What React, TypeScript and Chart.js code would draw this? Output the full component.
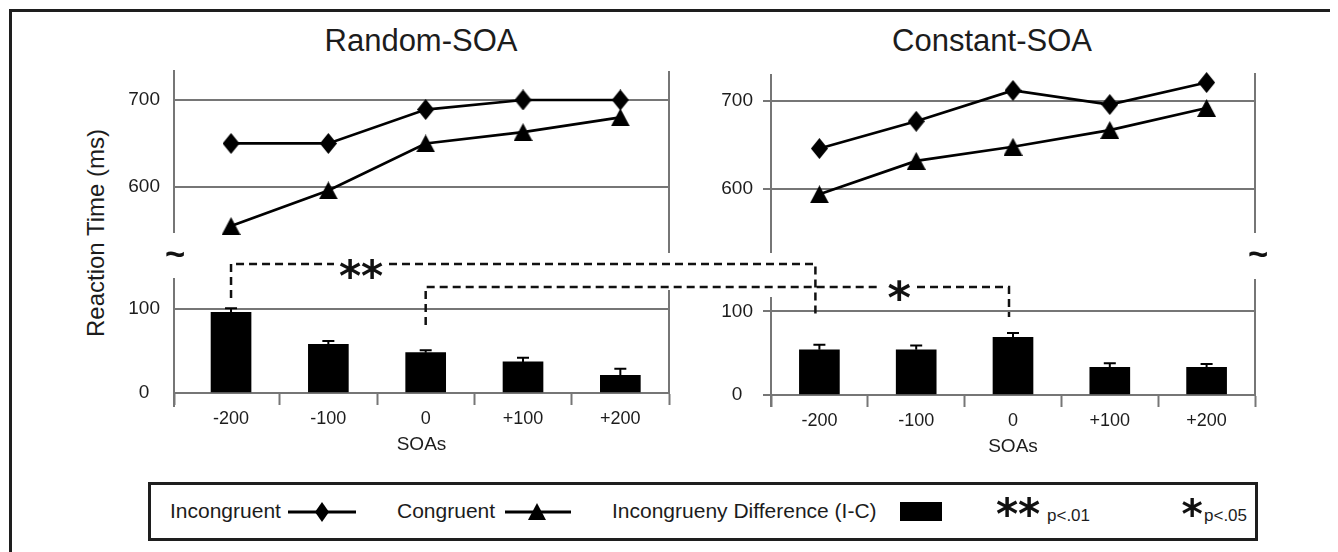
import React, { useEffect, useRef } from 'react';
import { Chart, registerables } from 'chart.js';

Chart.register(...registerables);

// ---------------- data ----------------
const soaLabels = ['-200', '-100', '0', '+100', '+200'];
const randomIncongruent = [650, 650, 689, 700, 700];
const randomCongruent = [555, 596, 650, 663, 680];
const constantIncongruent = [646, 677, 712, 696, 721];
const constantCongruent = [594, 632, 648, 667, 692];
const randomDifference = [96, 58, 48, 37, 21];
const randomDifferenceErr = [5, 4, 3, 5, 8];
const constantDifference = [54, 54, 69, 33, 33];
const constantDifferenceErr = [6, 5, 5, 5, 4];
const rtTicks = [600, 700];
const diffTicks = [0, 100];

// ---------------- layout / style ----------------
const ORIGIN = 8;
const FONT = '"Liberation Sans", Arial, Helvetica, sans-serif';
const GRID = '#767676';
const TXT = '#1c1c1c';
const YW = 90;
const PR = 20;
const PT = 32;
const PB_TOP = 32;
const XH = 75;
const PB_BOT = 5;

type Seg = { side: 'left' | 'right'; from: number; to: number };
type Geo = {
  left: number; right: number; top: number; bottom: number;
  xMin: number; xMax: number; yMin: number; yMax: number;
  ticks: number[]; leftPanel: boolean; bar: boolean; segs: Seg[];
};

const GEO: Record<string, Geo> = {
  tl: { left: 174, right: 669, top: 70, bottom: 233, xMin: -0.586, xMax: 4.5, yMin: 547, yMax: 734.5, ticks: rtTicks, leftPanel: true, bar: false,
    segs: [{ side: 'left', from: 0, to: 0 }, { side: 'right', from: 1, to: 20 }] },
  tr: { left: 771, right: 1255, top: 74, bottom: 253, xMin: -0.5, xMax: 4.5, yMin: 527.3, yMax: 730.7, ticks: rtTicks, leftPanel: false, bar: false,
    segs: [{ side: 'left', from: 0, to: 0 }, { side: 'right', from: -1, to: -20 }] },
  bl: { left: 174, right: 669, top: 278, bottom: 393, xMin: -0.586, xMax: 4.5, yMin: 0, yMax: 136.9, ticks: diffTicks, leftPanel: true, bar: true,
    segs: [{ side: 'left', from: 0, to: 14 }, { side: 'right', from: 12, to: 0 }] },
  br: { left: 771, right: 1255, top: 280, bottom: 395, xMin: -0.5, xMax: 4.5, yMin: 0, yMax: 137.4, ticks: diffTicks, leftPanel: false, bar: true,
    segs: [{ side: 'left', from: 17, to: 12 }, { side: 'right', from: -1, to: 0 }] },
};

function canvasBox(g: Geo) {
  const left = g.left - YW;
  const top = g.top - PT;
  const width = g.right - g.left + YW + PR;
  const height = g.bottom - g.top + PT + (g.bar ? XH + PB_BOT : PB_TOP);
  return { left, top, width, height };
}

function framePlugin(segs: Seg[]) {
  return {
    id: 'frameLines',
    beforeDatasetsDraw(chart: any) {
      const { ctx, chartArea: a } = chart;
      ctx.save();
      ctx.strokeStyle = GRID;
      ctx.lineWidth = 2;
      ctx.setLineDash([]);
      segs.forEach((s) => {
        const x = s.side === 'left' ? a.left : a.right;
        ctx.beginPath();
        ctx.moveTo(x, a.top + s.from);
        ctx.lineTo(x, a.bottom + s.to);
        ctx.stroke();
      });
      ctx.restore();
    },
  };
}

const errorBarPlugin = {
  id: 'errorBars',
  afterDatasetsDraw(chart: any) {
    const ctx = chart.ctx;
    chart.data.datasets.forEach((ds: any, di: number) => {
      const errs: number[] | undefined = ds.errors;
      if (!errs) return;
      const meta = chart.getDatasetMeta(di);
      meta.data.forEach((bar: any, i: number) => {
        const x = bar.x;
        const yTop = bar.y;
        const yErr = chart.scales.y.getPixelForValue(ds.data[i].y + errs[i]);
        ctx.save();
        ctx.strokeStyle = '#000';
        ctx.lineWidth = 2;
        ctx.beginPath();
        ctx.moveTo(x, yTop);
        ctx.lineTo(x, yErr);
        ctx.moveTo(x - 6, yErr);
        ctx.lineTo(x + 6, yErr);
        ctx.stroke();
        ctx.restore();
      });
    });
  },
};

function yScale(g: Geo) {
  return {
    type: 'linear',
    min: g.yMin,
    max: g.yMax,
    afterBuildTicks: (s: any) => { s.ticks = g.ticks.map((v) => ({ value: v })); },
    afterFit: (s: any) => { s.width = YW; },
    border: { display: false },
    grid: { color: GRID, lineWidth: 2, drawTicks: !g.leftPanel, tickLength: 8, tickColor: GRID, tickWidth: 2 },
    ticks: { color: TXT, font: { size: 19, family: FONT }, padding: g.leftPanel ? 14 : 10, crossAlign: 'center' },
  };
}

function xBarScale(g: Geo) {
  const vals = [g.xMin, 0, 0.5, 1, 1.5, 2, 2.5, 3, 3.5, 4, g.xMax];
  return {
    type: 'linear',
    min: g.xMin,
    max: g.xMax,
    offset: false,
    afterBuildTicks: (s: any) => { s.ticks = vals.map((v) => ({ value: v })); },
    afterFit: (s: any) => { s.height = XH; },
    border: { display: true, color: GRID, width: 2 },
    grid: {
      offset: false,
      drawOnChartArea: false,
      drawTicks: true,
      tickLength: 12,
      tickWidth: 2,
      tickColor: (c: any) => (c.tick && Number.isInteger(c.tick.value) ? 'rgba(0,0,0,0)' : GRID),
    },
    ticks: {
      autoSkip: false, maxRotation: 0, minRotation: 0, padding: 3, color: TXT,
      font: { size: 18, family: FONT },
      callback: (v: any) => (Number.isInteger(v) ? soaLabels[v] : ''),
    },
    title: { display: true, text: 'SOAs', color: TXT, font: { size: 19, family: FONT }, padding: { top: 0, bottom: 12 } },
  };
}

function makeDiamond(w: number, h: number) {
  const c = document.createElement('canvas');
  c.width = w; c.height = h;
  const g = c.getContext('2d')!;
  g.fillStyle = '#000';
  g.beginPath();
  g.moveTo(w / 2, 0); g.lineTo(w, h / 2); g.lineTo(w / 2, h); g.lineTo(0, h / 2);
  g.closePath(); g.fill();
  return c;
}
function makeTriangle(w: number, h: number) {
  const c = document.createElement('canvas');
  c.width = w; c.height = h;
  const g = c.getContext('2d')!;
  g.fillStyle = '#000';
  g.beginPath();
  g.moveTo(w / 2, 0); g.lineTo(w, h); g.lineTo(0, h);
  g.closePath(); g.fill();
  return c;
}

const baseOptions = (g: Geo) => ({
  animation: false,
  responsive: false,
  events: [],
  layout: { padding: { left: 0, right: PR, top: PT, bottom: g.bar ? PB_BOT : PB_TOP } },
  plugins: { legend: { display: false }, tooltip: { enabled: false } },
});

function lineConfig(g: Geo, inc: number[], con: number[], diamond: any, tri: any): any {
  return {
    type: 'line',
    data: {
      datasets: [
        { label: 'Incongruent', data: inc.map((y, x) => ({ x, y })), borderColor: '#000', borderWidth: 2.7,
          pointStyle: diamond, pointRadius: 9, pointBackgroundColor: '#000', clip: false, tension: 0 },
        { label: 'Congruent', data: con.map((y, x) => ({ x, y })), borderColor: '#000', borderWidth: 2.7,
          pointStyle: tri, pointRadius: 9, pointBackgroundColor: '#000', clip: false, tension: 0 },
      ],
    },
    options: {
      ...baseOptions(g),
      scales: { x: { type: 'linear', display: false, min: g.xMin, max: g.xMax }, y: yScale(g) },
    },
    plugins: [framePlugin(g.segs)],
  };
}

function barConfig(g: Geo, vals: number[], errs: number[]): any {
  return {
    type: 'bar',
    data: {
      datasets: [
        { label: 'Incongrueny Difference (I-C)', data: vals.map((y, x) => ({ x, y })), backgroundColor: '#000',
          barThickness: 40, errors: errs },
      ],
    },
    options: {
      ...baseOptions(g),
      scales: { x: xBarScale(g), y: yScale(g) },
    },
    plugins: [framePlugin(g.segs), errorBarPlugin],
  };
}

function drawInkText(ctx: CanvasRenderingContext2D, text: string, cx: number, cy: number, inkW: number, family: string) {
  ctx.font = `bold 100px ${family}`;
  let m = ctx.measureText(text);
  const w100 = m.actualBoundingBoxLeft + m.actualBoundingBoxRight;
  const size = (100 * inkW) / w100;
  ctx.font = `bold ${size}px ${family}`;
  m = ctx.measureText(text);
  ctx.textAlign = 'left';
  ctx.textBaseline = 'alphabetic';
  const x = cx - (m.actualBoundingBoxRight - m.actualBoundingBoxLeft) / 2;
  const y = cy + (m.actualBoundingBoxAscent - m.actualBoundingBoxDescent) / 2;
  ctx.fillText(text, x, y);
}

function drawOverlay(canvas: HTMLCanvasElement, bl: any, br: any) {
  const ctx = canvas.getContext('2d')!;
  ctx.clearRect(0, 0, canvas.width, canvas.height);
  ctx.save();
  ctx.translate(-ORIGIN, -ORIGIN);
  const blLeft = canvasBox(GEO.bl).left;
  const brLeft = canvasBox(GEO.br).left;
  const xl200 = blLeft + bl.scales.x.getPixelForValue(0);
  const xl0 = blLeft + bl.scales.x.getPixelForValue(2);
  const xr200 = brLeft + br.scales.x.getPixelForValue(0) - 4;
  const xr0 = brLeft + br.scales.x.getPixelForValue(2) - 4;

  ctx.strokeStyle = '#111';
  ctx.lineWidth = 2.5;
  ctx.setLineDash([8, 5]);
  const y1 = 264;
  const y2 = 287;
  ctx.beginPath();
  ctx.moveTo(xl200, 298); ctx.lineTo(xl200, y1); ctx.lineTo(334, y1);
  ctx.moveTo(389, y1); ctx.lineTo(xr200, y1); ctx.lineTo(xr200, 315);
  ctx.moveTo(xl0, 325); ctx.lineTo(xl0, y2); ctx.lineTo(881, y2);
  ctx.moveTo(917, y2); ctx.lineTo(xr0, y2); ctx.lineTo(xr0, 317);
  ctx.stroke();
  ctx.setLineDash([]);

  ctx.fillStyle = '#111';
  const AST = '"DejaVu Sans", sans-serif';
  drawInkText(ctx, '**', 361, 269, 43, AST);
  drawInkText(ctx, '*', 899, 290, 22, AST);
  drawInkText(ctx, '**', 1018, 507, 43, AST);
  drawInkText(ctx, '*', 1192, 507, 20, AST);
  drawInkText(ctx, '~', 175, 254, 18, FONT);
  drawInkText(ctx, '~', 1258, 254, 18, FONT);
  ctx.restore();
}

const abs = (x: number, y: number): React.CSSProperties => ({ position: 'absolute', left: x - ORIGIN, top: y - ORIGIN });

function LegendText({ x, y, size, children }: { x: number; y: number; size: number; children: React.ReactNode }) {
  return (
    <div style={{ ...abs(x, y), fontFamily: FONT, fontSize: size, lineHeight: `${Math.round(size * 1.15)}px`, color: TXT, whiteSpace: 'nowrap' }}>
      {children}
    </div>
  );
}

export default function App() {
  const tlRef = useRef<HTMLCanvasElement>(null);
  const trRef = useRef<HTMLCanvasElement>(null);
  const blRef = useRef<HTMLCanvasElement>(null);
  const brRef = useRef<HTMLCanvasElement>(null);
  const ovRef = useRef<HTMLCanvasElement>(null);

  useEffect(() => {
    document.documentElement.style.overflow = 'hidden';
    document.body.style.overflow = 'hidden';
    Chart.defaults.font.family = FONT;
    Chart.defaults.color = TXT;
    const diamond = makeDiamond(17, 21);
    const tri = makeTriangle(19, 18);
    const charts = [
      new Chart(tlRef.current!, lineConfig(GEO.tl, randomIncongruent, randomCongruent, diamond, tri)),
      new Chart(trRef.current!, lineConfig(GEO.tr, constantIncongruent, constantCongruent, diamond, tri)),
      new Chart(blRef.current!, barConfig(GEO.bl, randomDifference, randomDifferenceErr)),
      new Chart(brRef.current!, barConfig(GEO.br, constantDifference, constantDifferenceErr)),
    ];
    if (ovRef.current) drawOverlay(ovRef.current, charts[2], charts[3]);
    return () => charts.forEach((c) => c.destroy());
  }, []);

  const cv = (key: string, ref: React.RefObject<HTMLCanvasElement>) => {
    const b = canvasBox(GEO[key]);
    return <canvas ref={ref} width={b.width} height={b.height} style={{ ...abs(b.left, b.top), width: b.width, height: b.height }} />;
  };

  const titleStyle = (cx: number): React.CSSProperties => ({
    position: 'absolute', left: cx - ORIGIN, top: 23 - ORIGIN, transform: 'translateX(-50%)',
    fontSize: 31, lineHeight: '36px', color: TXT, whiteSpace: 'nowrap',
  });

  return (
    <div style={{ position: 'relative', width: 1330, height: 544, overflow: 'hidden', background: '#fff', fontFamily: FONT }}>
      {/* outer frame */}
      <div style={{ ...abs(9, 9), width: 1329, height: 600, border: '3px solid #1e1e1e', boxSizing: 'border-box' }} />
      {/* titles */}
      <div style={titleStyle(421)}>Random-SOA</div>
      <div style={titleStyle(992)}>Constant-SOA</div>
      {/* y axis title */}
      <div style={{ position: 'absolute', left: 96 - ORIGIN, top: 233 - ORIGIN, transform: 'translate(-50%, -50%) rotate(-90deg)', fontSize: 24, lineHeight: '28px', color: TXT, whiteSpace: 'nowrap' }}>Reaction Time (ms)</div>

      {cv('tl', tlRef)}
      {cv('tr', trRef)}
      {cv('bl', blRef)}
      {cv('br', brRef)}

      {/* legend */}
      <div style={{ ...abs(148, 482), width: 1110, height: 59, border: '3px solid #1e1e1e', boxSizing: 'border-box' }} />
      <LegendText x={170} y={499} size={21}>Incongruent</LegendText>
      <svg style={abs(286, 500)} width={72} height={24}>
        <line x1={2} y1={12} x2={70} y2={12} stroke="#000" strokeWidth={3} />
        <polygon points="36,2 43,12 36,22 29,12" fill="#000" />
      </svg>
      <LegendText x={397} y={499} size={21}>Congruent</LegendText>
      <svg style={abs(503, 500)} width={70} height={24}>
        <line x1={2} y1={12} x2={68} y2={12} stroke="#000" strokeWidth={3} />
        <polygon points="34,3 43,20 25,20" fill="#000" />
      </svg>
      <LegendText x={612} y={499} size={21}>Incongrueny Difference (I-C)</LegendText>
      <div style={{ ...abs(900, 502), width: 42, height: 19, background: '#000' }} />
      <LegendText x={1047} y={506} size={17}>p&lt;.01</LegendText>
      <LegendText x={1204} y={506} size={17}>p&lt;.05</LegendText>

      <canvas ref={ovRef} width={1330} height={544} style={{ position: 'absolute', left: 0, top: 0, width: 1330, height: 544, pointerEvents: 'none' }} />
    </div>
  );
}
